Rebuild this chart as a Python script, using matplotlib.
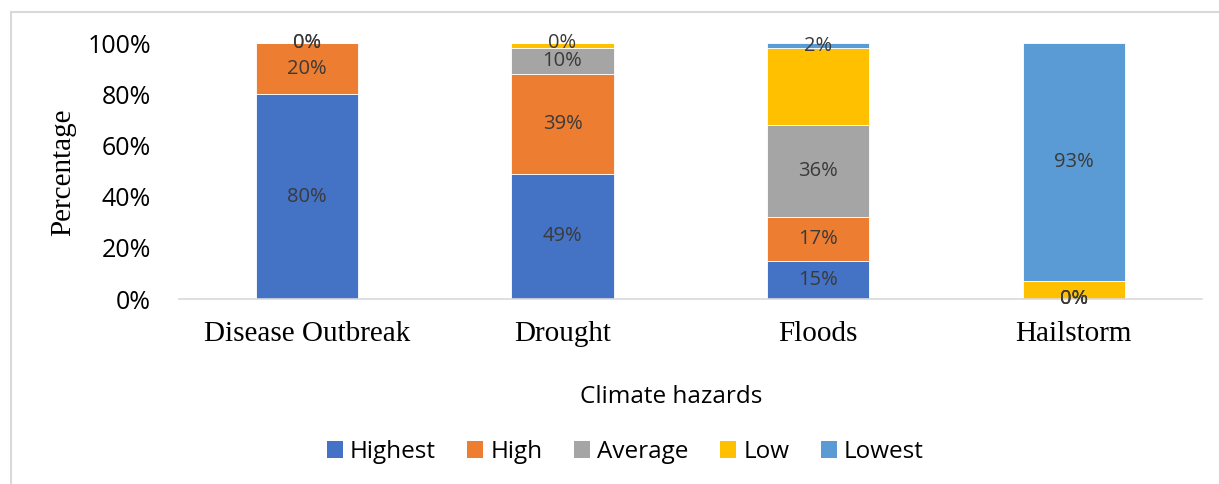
import numpy as np
import matplotlib.pyplot as plt
import matplotlib.patches as mpatches

# share of respondents per rating, for each hazard
hazards = ["Disease Outbreak", "Drought", "Floods", "Hailstorm"]
series = ["Highest", "High", "Average", "Low", "Lowest"]
highest = [80, 49, 15, 0]
high = [20, 39, 17, 0]
average = [0, 10, 36, 0]
low = [0, 2, 30, 7]
lowest = [0, 0, 2, 93]
values = [highest, high, average, low, lowest]
colors = ["#4472c4", "#ed7d31", "#a5a5a5", "#ffc000", "#5b9bd5"]
# the Low series carries no data labels
labelled = [True, True, True, False, True]

sans = "Open Sans"
serif = "Liberation Serif"

fig = plt.figure(figsize=(12.19, 4.84), dpi=100)
ax = fig.add_axes([0.1468, 0.382, 0.839, 0.529])

x = np.arange(len(hazards))
bottom = np.zeros(len(hazards))
for name, vals, col, lab in zip(series, values, colors, labelled):
    vals = np.array(vals, dtype=float)
    ax.bar(x, vals, 0.4, bottom=bottom, color=col, edgecolor="white",
           linewidth=0.6, label=name, zorder=2)
    if lab:
        for xi, b, v in zip(x, bottom, vals):
            ax.text(xi, b + v / 2, "%d%%" % v, ha="center", va="center",
                    fontsize=14.5, color="#3a3a3a", family=sans, zorder=3)
    bottom += vals

ax.set_xlim(-0.5, len(hazards) - 0.5)
ax.set_ylim(0, 100)
ax.set_yticks(range(0, 101, 20))
ax.set_yticklabels(["%d%%" % t for t in range(0, 101, 20)], family=sans, fontsize=18)
ax.set_xticks(x)
ax.set_xticklabels(hazards, family=serif, fontsize=21)
ax.tick_params(axis="both", length=0)
ax.tick_params(axis="y", pad=20)
ax.tick_params(axis="x", pad=16)

for s in ["top", "right", "left"]:
    ax.spines[s].set_visible(False)
ax.spines["bottom"].set_color("#d9d9d9")
ax.spines["bottom"].set_linewidth(1.2)

fig.text(0.0517, 0.645, "Percentage", rotation=90, ha="center", va="center",
         family=serif, fontsize=21)
fig.text(0.551, 0.180, "Climate hazards", ha="center", va="center",
         family=sans, fontsize=17.5)

handles = [mpatches.Rectangle((0, 0), 1, 1, fc=c) for c in colors]
leg = fig.legend(handles, series, loc="center", bbox_to_anchor=(0.513, 0.066),
                 ncol=5, frameon=False, prop={"family": sans, "size": 17.5},
                 handlelength=0.65, handleheight=0.65, handletextpad=0.3,
                 columnspacing=1.3)

# chart area border
fig.add_artist(mpatches.Rectangle((11 / 1219, -0.1), 1.2, 1 - 12 / 484 + 0.1,
                                  transform=fig.transFigure, fill=False,
                                  edgecolor="#d9d9d9", linewidth=1.5))

fig.savefig("out.png", dpi=100)
